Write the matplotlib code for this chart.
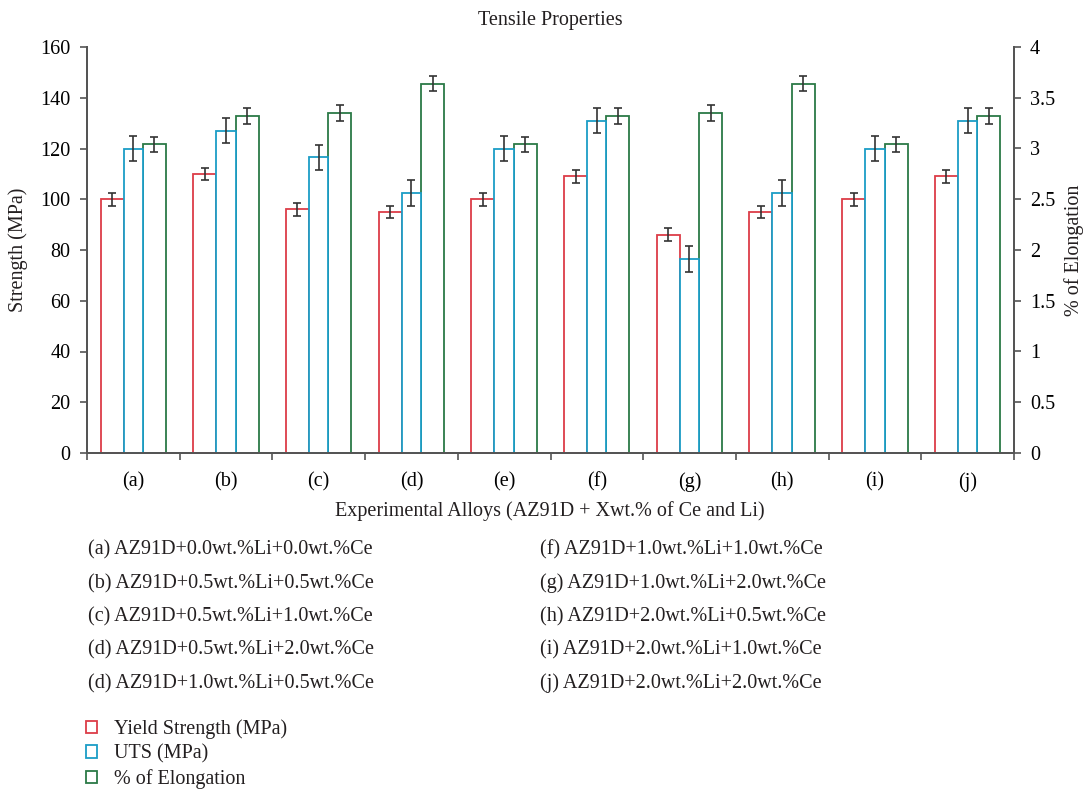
import numpy as np
import matplotlib
matplotlib.use("Agg")
import matplotlib.pyplot as plt
from matplotlib.ticker import MultipleLocator, FixedLocator

plt.rcParams["font.family"] = ["Liberation Serif", "DejaVu Serif"]
plt.rcParams["text.color"] = "#231f20"

alloys = ["(a)", "(b)", "(c)", "(d)", "(e)", "(f)", "(g)", "(h)", "(i)", "(j)"]
yield_strength = [100, 110, 96, 95, 100, 109, 86, 95, 100, 109]
yield_err = [2.5, 2.5, 2.5, 2.5, 2.5, 2.5, 2.5, 2.5, 2.5, 2.5]
uts = [120, 127, 116.5, 102.5, 120, 131, 76.5, 102.5, 120, 131]
uts_err = [5, 5, 5, 5, 5, 5, 5, 5, 5, 5]
elongation = [3.04, 3.32, 3.35, 3.64, 3.04, 3.32, 3.35, 3.64, 3.04, 3.32]
elong_err = [0.075, 0.075, 0.075, 0.075, 0.075, 0.075, 0.075, 0.075, 0.075, 0.075]

alloy_notes_left = [
    "(a) AZ91D+0.0wt.%Li+0.0wt.%Ce",
    "(b) AZ91D+0.5wt.%Li+0.5wt.%Ce",
    "(c) AZ91D+0.5wt.%Li+1.0wt.%Ce",
    "(d) AZ91D+0.5wt.%Li+2.0wt.%Ce",
    "(d) AZ91D+1.0wt.%Li+0.5wt.%Ce",
]
alloy_notes_right = [
    "(f) AZ91D+1.0wt.%Li+1.0wt.%Ce",
    "(g) AZ91D+1.0wt.%Li+2.0wt.%Ce",
    "(h) AZ91D+2.0wt.%Li+0.5wt.%Ce",
    "(i) AZ91D+2.0wt.%Li+1.0wt.%Ce",
    "(j) AZ91D+2.0wt.%Li+2.0wt.%Ce",
]

red = "#dc3d48"
blue = "#1b9dc6"
green = "#2b7a46"
spine_col = "#555555"
err_col = "#333333"
fs = 14.5

W, H = 1088, 791
fig = plt.figure(figsize=(W / 100, H / 100), dpi=100)
ax = fig.add_axes([87 / W, 1 - 453 / H, 927 / W, 406 / H])
ax2 = ax.twinx()

x = np.arange(len(alloys))
# bar edges within each category slot (slot width = 1)
red_l, red_w = 0.146, 0.248
blue_l, blue_w = 0.394, 0.210
green_l, green_w = 0.604, 0.248

bar_kw = dict(align="edge", facecolor="white", linewidth=1.3, zorder=2)
b_red = ax.bar(x + red_l, yield_strength, red_w, edgecolor=red, label="Yield Strength (MPa)", **bar_kw)
b_blue = ax.bar(x + blue_l, uts, blue_w, edgecolor=blue, label="UTS (MPa)", **bar_kw)
b_green = ax2.bar(x + green_l, elongation, green_w, edgecolor=green, label="% of Elongation", **bar_kw)

err_kw = dict(fmt="none", ecolor=err_col, elinewidth=1.2, capsize=2.6, capthick=1.2, zorder=3)
ax.errorbar(x + red_l + red_w / 2, yield_strength, yerr=yield_err, **err_kw)
ax.errorbar(x + blue_l + blue_w / 2, uts, yerr=uts_err, **err_kw)
ax2.errorbar(x + green_l + green_w / 2, elongation, yerr=elong_err, **err_kw)

ax.set_xlim(0, len(alloys))
ax.set_ylim(0, 160)
ax2.set_ylim(0, 4)
ax.yaxis.set_major_locator(MultipleLocator(20))
ax2.yaxis.set_major_locator(MultipleLocator(0.5))
ax2.yaxis.set_major_formatter(matplotlib.ticker.FuncFormatter(lambda v, p: f"{v:g}"))

ax.set_xticks(x + 0.5)
ax.set_xticklabels(alloys, fontsize=fs)
ax.xaxis.set_minor_locator(FixedLocator(np.arange(len(alloys) + 1)))
ax.tick_params(axis="x", which="major", length=0, pad=14)
ax.tick_params(axis="x", which="minor", length=5, width=1.2, color=spine_col)
ax.tick_params(axis="y", length=5, width=1.2, color=spine_col, labelsize=fs, pad=7)
ax2.tick_params(axis="y", length=5, width=1.2, color=spine_col, labelsize=fs, pad=6.5)

for a in (ax, ax2):
    a.spines["top"].set_visible(False)
    for s in ("left", "right", "bottom"):
        a.spines[s].set_color(spine_col)
        a.spines[s].set_linewidth(1.4)
ax.set_zorder(ax2.get_zorder() + 1)
ax.patch.set_visible(False)

fig.text(18 / W, 1 - 250 / H, "Strength (MPa)", rotation=90, ha="center", va="center", fontsize=fs)
fig.text(1074 / W, 1 - 250 / H, "% of Elongation", rotation=90, ha="center", va="center", fontsize=fs)

fig.text(550 / W, 1 - 20 / H, "Tensile Properties", ha="center", va="center", fontsize=fs)
fig.text(550 / W, 1 - 511 / H, "Experimental Alloys (AZ91D + Xwt.% of Ce and Li)",
         ha="center", va="center", fontsize=fs)

# alloy key, two columns, placed on a common baseline per row
rows_base = [554, 588, 621, 654, 688]
for yy, left, right in zip(rows_base, alloy_notes_left, alloy_notes_right):
    fig.text(88 / W, 1 - yy / H, left, ha="left", va="baseline", fontsize=fs)
    fig.text(540 / W, 1 - yy / H, right, ha="left", va="baseline", fontsize=fs)

fig.legend(handles=[b_red, b_blue, b_green], loc="upper left",
           bbox_to_anchor=(86 / W, 1 - 719 / H), frameon=False, fontsize=fs,
           handlelength=0.55, handleheight=0.55, handletextpad=0.85,
           labelspacing=0.28, borderpad=0, borderaxespad=0)

fig.savefig("out.png", dpi=100)
